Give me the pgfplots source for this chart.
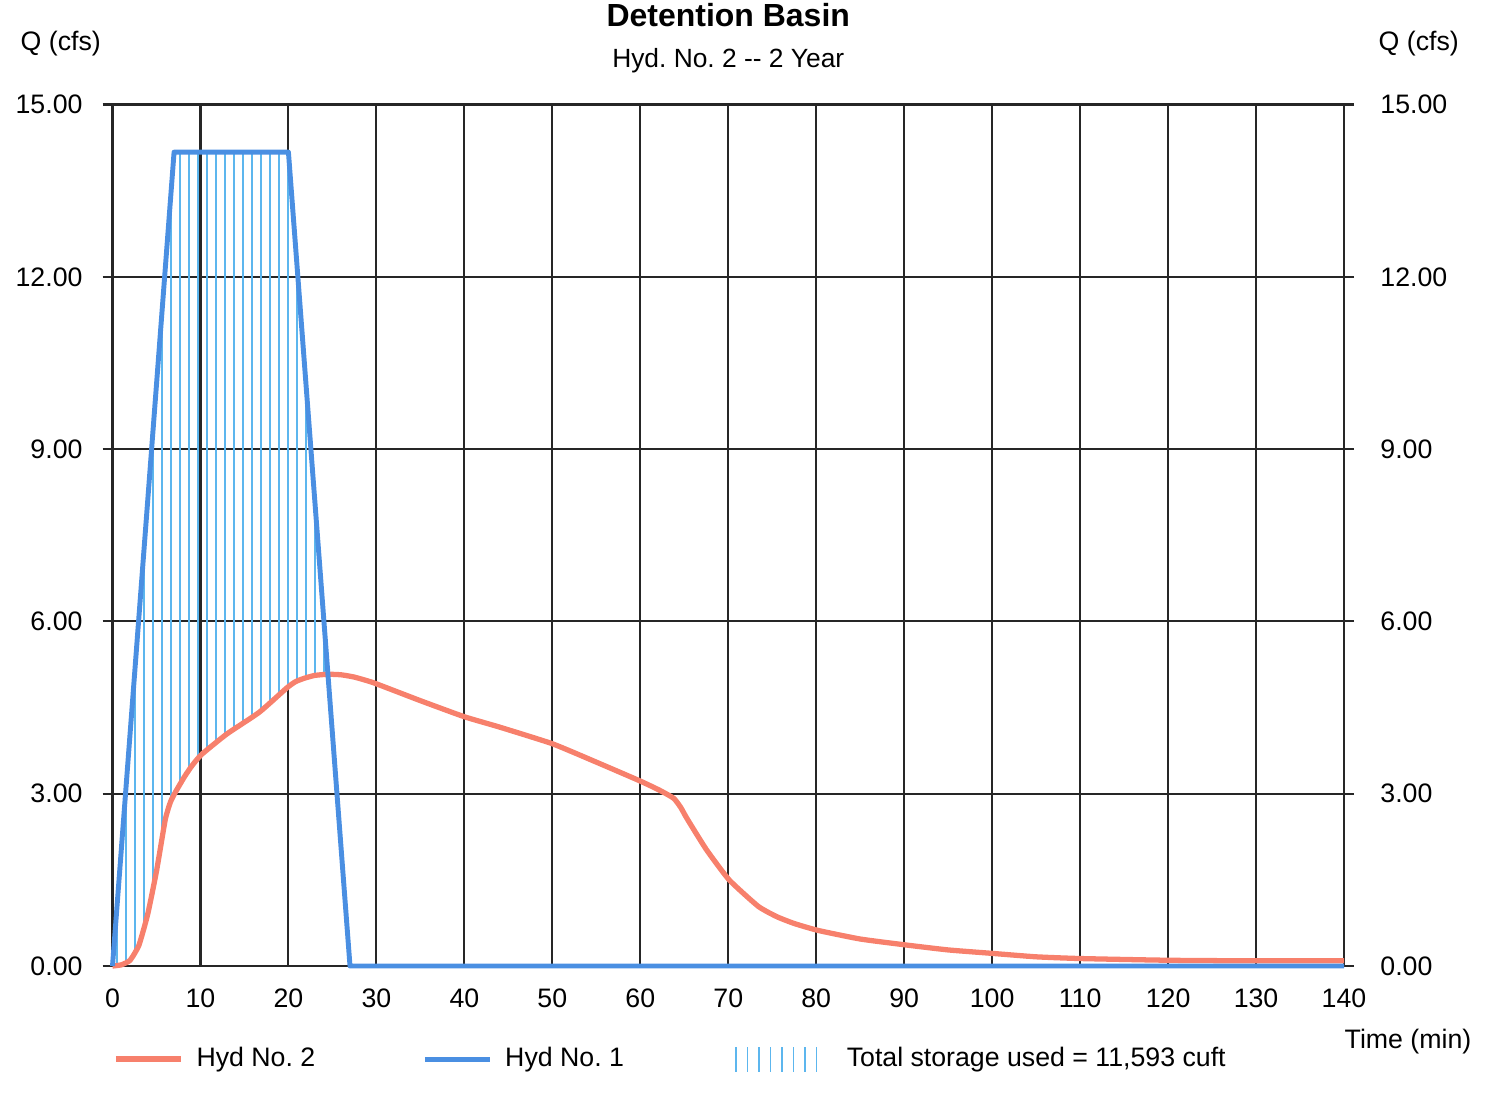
\documentclass[border=0pt]{standalone}
\usepackage{fontspec}
\setmainfont{Liberation Sans}
\usepackage{pgfplots}
\pgfplotsset{compat=1.18}
\usepackage{pgfplotstable}
\usepgfplotslibrary{fillbetween}
\usetikzlibrary{patterns.meta}

\definecolor{hydtwo}{HTML}{F7806C}
\definecolor{hydone}{HTML}{4A8FE2}
\definecolor{hatch}{HTML}{5CB6EE}
\newcommand{\lbl}{\fontsize{7.6}{9}\selectfont}
\frenchspacing

\pgfplotsset{
  lineleg/.style={legend image code/.code={\draw[##1] (0cm,0cm) -- (0.65cm,0cm);
    \path (0.71cm,0cm);}},
  hatchleg/.style={legend image code/.code={\path[draw=none, pattern={Lines[angle=90,distance=1.15mm,line width=0.5pt]},
    pattern color=hatch] (0cm,-0.12cm) rectangle (0.95cm,0.12cm);
    \path (1.08cm,0cm);}},
}

% Hyd No. 1 -- inflow (modified rational, Tc = 7 min, D = 20 min)
\pgfplotstableread{
t q
0 0
7 14.17
20 14.17
27 0
140 0
}\inflow

% Hyd No. 2 -- routed outflow
\pgfplotstableread{
t q
0 0
1 0.02
2 0.10
3 0.36
4 0.90
5 1.65
6 2.55
6.6 2.86
7.2 3.04
8.2 3.30
9 3.48
10.1 3.68
13 4.04
16.7 4.42
19.8 4.84
20.8 4.95
21.8 5.01
23 5.06
24.5 5.08
26 5.07
27.5 5.03
29.7 4.93
35 4.62
40 4.34
44 4.16
50 3.87
55 3.55
60 3.22
62.2 3.06
63.8 2.92
64.6 2.76
65.3 2.57
67.5 2.03
70.1 1.50
73.4 1.04
75.5 0.86
77.5 0.74
80.2 0.62
85 0.47
90 0.37
95 0.28
100 0.22
105 0.16
110 0.13
120 0.10
130 0.09
140 0.09
}\outflow

\begin{document}
\begin{tikzpicture}
\begin{axis}[
  at={(1.125cm,1.30cm)}, anchor=south west,
  scale only axis, width=12.315cm, height=8.615cm,
  xmin=0, xmax=140, ymin=0, ymax=15,
  xtick={0,10,...,140}, ytick={0,3,...,15},
  clip=false,
  grid=major,
  major grid style={black!85, line width=0.6pt},
  axis line style={black!85, line width=0.6pt},
  tick style={black!85, line width=0.6pt},
  xtick style={draw=none},
  tick align=outside, tick pos=both, major tick length=0.1cm,
  yticklabel pos=left,
  /pgf/number format/assume math mode=true,
  ticklabel style={font=\lbl},
  yticklabel style={/pgf/number format/fixed, /pgf/number format/fixed zerofill,
    /pgf/number format/precision=2, xshift=-0.076cm},
  legend style={at={(axis description cs:0,-0.108)}, anchor=west, draw=none, fill=none,
    font=\lbl, legend columns=3, inner sep=0pt,
    /tikz/every even column/.append style={column sep=1.0cm}},
  legend cell align=left,
]
\addplot[draw=none, name path=inpath, forget plot] table {\inflow};
\addplot[draw=none, name path=outpath, forget plot] table {\outflow};
\addplot[draw=none, pattern={Lines[angle=90,distance=0.9mm,line width=0.5pt]},
  pattern color=hatch, forget plot]
  fill between[of=inpath and outpath, soft clip={domain=0:24.5}];

\addplot[hydtwo, line width=1.5pt, line join=round, smooth, tension=0.3, lineleg] table {\outflow};
\addlegendentry{Hyd No. 2}
\addplot[hydone, line width=1.4pt, line join=round, lineleg] table {\inflow};
\addlegendentry{Hyd No. 1}
\addlegendimage{hatchleg}
\addlegendentry{Total storage used = 11,593 cuft}

\node[font=\bfseries\fontsize{9.1}{11}\selectfont, anchor=base] at (axis description cs:0.5,1.0911) {Detention Basin};
\node[font=\fontsize{7.5}{9}\selectfont, anchor=base] at (axis description cs:0.5,1.0424) {Hyd. No. 2 -{}- 2 Year};
\node[font=\lbl, anchor=west, inner sep=0pt] at (axis description cs:-0.0751,1.071) {Q (cfs)};
\node[font=\lbl, anchor=west, inner sep=0pt] at (axis description cs:1.0276,1.071) {Q (cfs)};
\node[font=\lbl, anchor=west, inner sep=0pt] at (axis description cs:1.0,-0.088) {Time (min)};
\end{axis}
\begin{axis}[
  at={(1.125cm,1.30cm)}, anchor=south west,
  scale only axis, width=12.315cm, height=8.615cm,
  xmin=0, xmax=140, ymin=0, ymax=15, ytick={0,3,...,15},
  hide x axis, axis y line*=right,
  y axis line style={draw=none}, ytick style={draw=none},
  /pgf/number format/assume math mode=true,
  yticklabel style={font=\lbl, /pgf/number format/fixed, /pgf/number format/fixed zerofill,
    /pgf/number format/precision=2, xshift=0.24cm},
]
\end{axis}
\pgfresetboundingbox
\path (0,0) rectangle (15.01cm,10.96cm);
\end{tikzpicture}
\end{document}
